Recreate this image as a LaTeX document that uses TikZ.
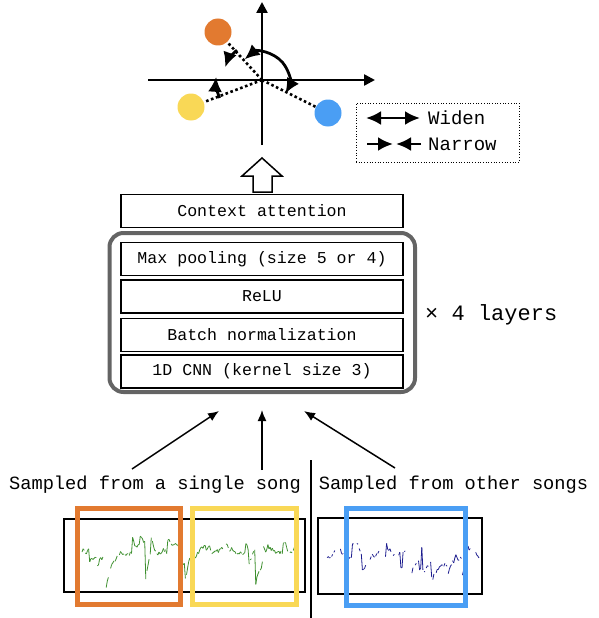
\documentclass[tikz,border=0pt]{standalone}
\usepackage{fontspec}
\setmainfont{Liberation Mono}
\usetikzlibrary{arrows.meta}
\definecolor{cOrange}{HTML}{E27A30}
\definecolor{cYellow}{HTML}{F9D856}
\definecolor{cBlue}{HTML}{4A9EF4}
\definecolor{cGray}{HTML}{646464}
\definecolor{cGreen}{HTML}{3D8F2E}
\definecolor{cNavy}{HTML}{1C1C8E}
\begin{document}
\begin{tikzpicture}[x=1pt,y=-1pt,
  box/.style={draw, line width=1.8pt, minimum width=282pt, minimum height=33pt, inner sep=0pt, font=\fontsize{16.6}{18}\selectfont},
  lbl/.style={inner sep=0pt, font=\fontsize{18.7}{20}\selectfont},
  leglbl/.style={inner sep=0pt, anchor=west, font=\fontsize{19}{21}\selectfont},
  axis/.style={line width=2.5pt, -{Triangle[length=11pt,width=11pt]}},
  vec/.style={line width=2.6pt, dash pattern=on 2.6pt off 2.6pt},
  dot/.style={circle, inner sep=0pt, minimum size=27pt},
  rot/.style={line width=2.8pt},
  tip/.style={-{Latex[length=15pt,width=14pt]}},
  dtip/.style={{Latex[length=15pt,width=14pt]}-{Latex[length=15pt,width=14pt]}},
  inarrow/.style={line width=1.5pt, -{Latex[length=11pt,width=9pt]}},
  wave/.style={line width=0.8pt},
  sel/.style={line width=5pt, inner sep=0pt},
  frame/.style={draw, line width=1.8pt, inner sep=0pt}
]
\useasboundingbox (0,0) rectangle (598,618);

% ---- embedding space ----
\coordinate (O) at (262,80);
\coordinate (xl) at (148,80);
\coordinate (xr) at (375,80);
\coordinate (yb) at (262,145);
\coordinate (yt) at (262,2);
\draw[axis] (xl) -- (xr);
\draw[axis] (yb) -- (yt);
\node[dot, fill=cOrange] (or) at (218,32) {};
\node[dot, fill=cYellow] (ye) at (191,107) {};
\node[dot, fill=cBlue] (bl) at (328,113) {};
\draw[vec] (O) -- (or);
\draw[vec] (O) -- (ye);
\draw[vec] (O) -- (bl);
% widen
\coordinate (wA) at ([shift={(-130:27)}]O);
\draw[rot, dtip] (wA) arc[start angle=-130, end angle=30, radius=27];
% narrow
\coordinate (nA) at ([shift={(-130:39)}]O);
\draw[rot, tip] (nA) arc[start angle=-130, end angle=-161, radius=39];
\coordinate (nB) at ([shift={(157:46)}]O);
\draw[rot, tip] (nB) arc[start angle=157, end angle=184, radius=46];

% ---- legend ----
\node[draw, dotted, line width=0.7pt, minimum width=163pt, minimum height=59pt, inner sep=0pt] (leg) at (437.5,132.5) {};
\node[leglbl] (wid) at (428,118) {Widen};
\node[leglbl] (nar) at (428,144) {Narrow};
\coordinate (w1) at (366,118);
\coordinate (w2) at (420,118);
\draw[rot, dtip] (w1) -- (w2);
\coordinate (n1) at (367,144);
\coordinate (n2) at (393,144);
\coordinate (n3) at (421,144);
\coordinate (n4) at (396,144);
\draw[rot, tip] (n1) -- (n2);
\draw[rot, tip] (n3) -- (n4);

% ---- hollow arrow ----
\draw[line width=1.5pt, fill=white] (253,192) -- (253,176) -- (242,176) -- (262,158) -- (282,176) -- (272,176) -- (272,192) -- cycle;

% ---- network ----
\node[box] (ctx) at (262,211) {Context attention};
\node[draw=cGray, line width=4pt, rounded corners=14pt, minimum width=305.5pt, minimum height=159pt, inner sep=0pt] (stack) at (262.25,312.5) {};
\node[box] (mp) at (262,259) {Max pooling (size 5 or 4)};
\node[box] (relu) at (262,296.5) {ReLU};
\node[box] (bn) at (262,335) {Batch normalization};
\node[box] (cnn) at (262,371.5) {1D CNN (kernel size 3)};
\node[inner sep=0pt, anchor=west, font=\fontsize{22}{24}\selectfont] (layers) at (425,315) {× 4 layers};

% ---- inputs ----
\node[lbl] (single) at (155,485) {Sampled from a single song};
\node[lbl] (other) at (453.5,485) {Sampled from other songs};
\coordinate (p1) at (132,469); \coordinate (q1) at (219,411);
\coordinate (p2) at (262,470); \coordinate (q2) at (262,410);
\coordinate (p3) at (395,468); \coordinate (q3) at (304,411);
\draw[inarrow] (p1) -- (q1);
\draw[inarrow] (p2) -- (q2);
\draw[inarrow] (p3) -- (q3);
\coordinate (d1) at (311,460);
\coordinate (d2) at (311,618);
\draw[line width=1.5pt] (d1) -- (d2);

% ---- waveforms ----
\node[frame, minimum width=241pt, minimum height=73pt] (wl) at (184.5,555.5) {};
\node[frame, minimum width=164pt, minimum height=76pt] (wr) at (400,556) {};

\pgfmathsetseed{11}
\xdef\wy{552}
\foreach \xa in {82,83.1,...,298}{
  \pgfmathsetmacro\ny{rnd<0.13 ? (rnd<0.5 ? 536+12*rnd : 560+28*rnd) : \wy+0.2*(552-\wy)+(rnd-0.5)*7}
  \pgfmathsetmacro\xb{\xa+1.1}
  \pgfmathtruncatemacro\vis{rnd<0.78 ? 1 : 0}
  \ifnum\vis=1 \draw[wave,cGreen] (\xa,\wy) -- (\xb,\ny);\fi
  \xdef\wy{\ny}
}
\pgfmathsetseed{5}
\xdef\wy{556}
\foreach \xa in {325,326.1,...,478}{
  \pgfmathsetmacro\ny{rnd<0.12 ? (rnd<0.55 ? 543+10*rnd : 566+14*rnd) : \wy+0.2*(556-\wy)+(rnd-0.5)*7}
  \pgfmathsetmacro\xb{\xa+1.1}
  \pgfmathtruncatemacro\vis{rnd<0.55 ? 1 : 0}
  \ifnum\vis=1 \draw[wave,cNavy] (\xa,\wy) -- (\xb,\ny);\fi
  \xdef\wy{\ny}
}

\node[sel, draw=cOrange, minimum width=103pt, minimum height=96pt] (so) at (128.5,556) {};
\node[sel, draw=cYellow, minimum width=104pt, minimum height=96pt] (sy) at (244,556) {};
\node[sel, draw=cBlue, minimum width=119pt, minimum height=97pt] (sb) at (405.5,556.5) {};
\end{tikzpicture}
\end{document}
